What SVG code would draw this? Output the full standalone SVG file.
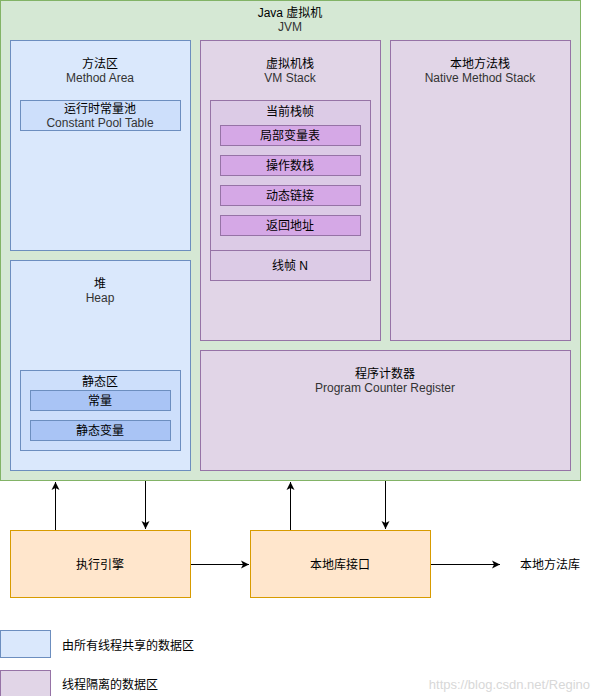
<svg xmlns="http://www.w3.org/2000/svg" width="601" height="696" viewBox="0 0 601 696">
<defs>
<style>
text{font-family:"Liberation Sans","Noto Sans CJK SC",sans-serif;font-size:12px;fill:#000;text-anchor:middle}
.en{fill:#333}
.jvm{fill:#d5e8d4;stroke:#82b366}
.blue{fill:#dae8fc;stroke:#6c8ebf}
.blue2{fill:#cddffb;stroke:#6c8ebf}
.blue3{fill:#a9c4f5;stroke:#6c8ebf}
.purple{fill:#e1d5e7;stroke:#9673a6}
.purple2{fill:#dccbe6;stroke:#9673a6}
.purple3{fill:#d5a8e6;stroke:#9673a6}
.orange{fill:#ffe6cc;stroke:#d79b00}
.line{stroke:#000;stroke-width:1;fill:none}
</style>
<marker id="ah" markerWidth="10" markerHeight="10" refX="8" refY="5" orient="auto" markerUnits="userSpaceOnUse">
<path d="M0,1 L8,5 L0,9 L2,5 Z" fill="#000"/>
</marker>
</defs>
<rect width="601" height="696" fill="#fff"/>
<g id="jvm">
<rect class="jvm" x="0.5" y="0.5" width="580" height="480"/>
<text x="290" y="17">Java 虚拟机</text>
<text x="290" y="31" class="en">JVM</text>
</g>
<g id="method-area">
<rect class="blue" x="10.5" y="40.5" width="180" height="210"/>
<text x="100" y="68">方法区</text>
<text x="100" y="82" class="en">Method Area</text>
</g>
<g id="constant-pool">
<rect class="blue2" x="20.5" y="100.5" width="160" height="30"/>
<text x="100" y="113">运行时常量池</text>
<text x="100" y="127" class="en">Constant Pool Table</text>
</g>
<g id="vm-stack">
<rect class="purple" x="200.5" y="40.5" width="180" height="300"/>
<text x="290" y="68">虚拟机栈</text>
<text x="290" y="82" class="en">VM Stack</text>
</g>
<g id="current-frame">
<rect class="purple2" x="210.5" y="100.5" width="160" height="180"/>
<line x1="210.5" y1="250.5" x2="370.5" y2="250.5" stroke="#9673a6"/>
<text x="290" y="116">当前栈帧</text>
<text x="290" y="270">线帧 N</text>
</g>
<g id="local-vars">
<rect class="purple3" x="220.5" y="125.5" width="140" height="20"/>
<text x="290" y="140">局部变量表</text>
</g>
<g id="operand-stack">
<rect class="purple3" x="220.5" y="155.5" width="140" height="20"/>
<text x="290" y="170">操作数栈</text>
</g>
<g id="dynamic-link">
<rect class="purple3" x="220.5" y="185.5" width="140" height="20"/>
<text x="290" y="200">动态链接</text>
</g>
<g id="return-addr">
<rect class="purple3" x="220.5" y="215.5" width="140" height="20"/>
<text x="290" y="230">返回地址</text>
</g>
<g id="native-stack">
<rect class="purple" x="390.5" y="40.5" width="180" height="300"/>
<text x="480" y="68">本地方法栈</text>
<text x="480" y="82" class="en">Native Method Stack</text>
</g>
<g id="heap">
<rect class="blue" x="10.5" y="260.5" width="180" height="210"/>
<text x="100" y="288">堆</text>
<text x="100" y="302" class="en">Heap</text>
</g>
<g id="static-area">
<rect class="blue2" x="20.5" y="370.5" width="160" height="80"/>
<text x="100" y="386">静态区</text>
</g>
<g id="constants">
<rect class="blue3" x="30.5" y="390.5" width="140" height="20"/>
<text x="100" y="405">常量</text>
</g>
<g id="static-vars">
<rect class="blue3" x="30.5" y="420.5" width="140" height="20"/>
<text x="100" y="435">静态变量</text>
</g>
<g id="pc-register">
<rect class="purple" x="200.5" y="350.5" width="370" height="120"/>
<text x="385" y="378">程序计数器</text>
<text x="385" y="392" class="en">Program Counter Register</text>
</g>
<g id="exec-engine">
<rect class="orange" x="10.5" y="530.5" width="180" height="67"/>
<text x="100" y="569">执行引擎</text>
</g>
<g id="native-interface">
<rect class="orange" x="250.5" y="530.5" width="180" height="67"/>
<text x="340" y="569">本地库接口</text>
</g>
<g id="native-lib">
<text x="550" y="569">本地方法库</text>
</g>
<g id="connectors">
<line class="line" x1="55.5" y1="530" x2="55.5" y2="482" marker-end="url(#ah)"/>
<line class="line" x1="145.5" y1="481" x2="145.5" y2="529" marker-end="url(#ah)"/>
<line class="line" x1="290.5" y1="530" x2="290.5" y2="482" marker-end="url(#ah)"/>
<line class="line" x1="385.5" y1="481" x2="385.5" y2="529" marker-end="url(#ah)"/>
<line class="line" x1="191" y1="564.5" x2="249" y2="564.5" marker-end="url(#ah)"/>
<line class="line" x1="431" y1="564.5" x2="500" y2="564.5" marker-end="url(#ah)"/>
</g>
<g id="legend-shared">
<rect class="blue" x="0.5" y="630.5" width="50" height="27"/>
<text x="62" y="650" style="text-anchor:start">由所有线程共享的数据区</text>
</g>
<g id="legend-isolated">
<rect class="purple" x="0.5" y="670.5" width="50" height="27"/>
<text x="62" y="689" style="text-anchor:start">线程隔离的数据区</text>
</g>
<text x="590" y="689" style="text-anchor:end;fill:#d8d8d8;font-size:13px">https://blog.csdn.net/Regino</text>
</svg>
